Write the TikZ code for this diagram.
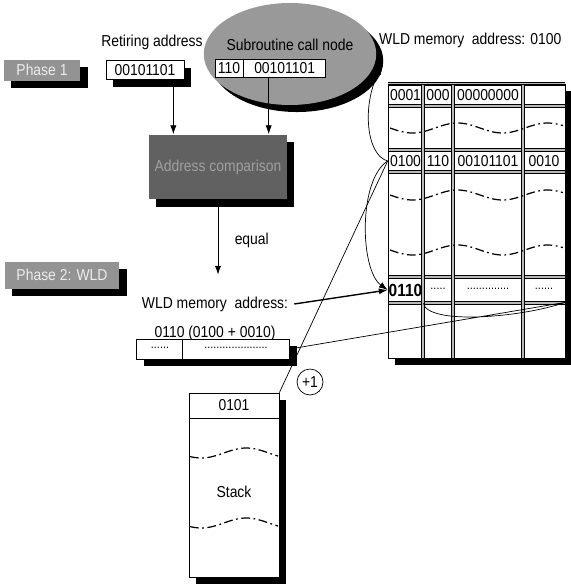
\documentclass[tikz,border=0pt]{standalone}
\usepackage{fontspec}
\setmainfont[FakeStretch=0.88]{Liberation Sans}
\usepackage{tikz}
\usetikzlibrary{positioning,arrows.meta,calc,shapes.geometric,shadows}

\begin{document}
\begin{tikzpicture}[x=0.02cm, y=-0.02cm, font=\fontsize{9}{10}\selectfont,
  shadowed/.style={drop shadow={shadow xshift=4pt, shadow yshift=-4pt, fill=black, opacity=1}},
  box/.style={draw, fill=white, inner sep=0pt, minimum height=0.38cm},
  label box/.style={fill=gray!85, text=gray!15, inner sep=0pt, shadowed},
  cell/.style={inner sep=0pt, minimum height=0.44cm},
  gridline/.style={double=gray!55, double distance=1.4pt, line width=0.45pt},
  breakline/.style={line width=0.7pt, dash pattern=on 5pt off 2pt on 1pt off 2pt},
  arr/.style={-{Latex[length=5pt,width=3.5pt]}}]
\useasboundingbox (0,0) rectangle (571,585);
% phase 1
\node[label box, minimum width=1.54cm, minimum height=0.42cm] (phase1) at (42,70) {Phase 1};
\node (retlabel) at (152,42) {Retiring address};
\node[box, shadowed, minimum width=1.56cm] (retaddr) at (145,70) {00101101};
\node[ellipse, fill=gray!80, shadowed, minimum width=3.45cm, minimum height=2.04cm] (callnode) at (290,54) {};
\node (calltitle) at (290,45) {Subroutine call node};
\node[box, minimum width=0.56cm, minimum height=0.36cm] (opcode) at (229,68) {110};
\node[box, minimum width=1.64cm, minimum height=0.36cm, right=0pt of opcode] (calladdr) {00101101};
\node[anchor=west] (wldold) at (373,40) {WLD memory\ \ address: 0100};
\draw (callnode.10) -- (callnode.10 -| wldold.west);
% comparison
\node[fill=black!62, text=gray!75, shadowed, minimum width=2.74cm, minimum height=1.3cm] (compare) at (218,167) {Address comparison};
\path (retaddr.south east) ++(-11,0) coordinate (rin);
\path (calladdr.south) ++(-16,0) coordinate (cin);
\draw[arr] (rin) -- (rin |- compare.north);
\draw[arr] (cin) -- (cin |- compare.north);
% phase 2
\node[label box, minimum width=2.3cm, minimum height=0.54cm] (phase2) at (62,275) {Phase 2: WLD};
\node (wldnew) at (215,304) {WLD memory\ \ address:};
\node[below=1pt of wldnew] (wldsum) {0110 (0100 + 0010)};
\draw[arr, shorten >=9pt] (compare.south) -- node[pos=0.45, right=6pt] {equal} (compare.south |- wldnew.north);
\node[box, shadowed, minimum width=3.06cm, minimum height=0.4cm] (newentry) at (213,349) {};
\draw ([xshift=0.92cm]newentry.north west) -- ([xshift=0.92cm]newentry.south west);
\node[font=\scriptsize] (newlo) at (160,348) {......};
\node[font=\scriptsize] (newhi) at (236,348) {.....................};
% wld memory table
\draw[shadowed, fill=white] (388,84) rectangle (565,358);
\foreach \y in {84,106,150,172,277,303}
  \draw[gridline] (388,\y) -- (565,\y);
\foreach \x in {423,453,523}
  \draw[gridline] (\x,84) -- (\x,358);
\draw (388,84) rectangle (565,358);
\foreach \y in {128,195,250}
  \draw[breakline] plot[domain=390:563, samples=60] (\x,{\y+5*sin(4*(\x-390))});
\foreach \x/\w/\t/\n in {405.5/0.7/0001/r0001, 438/0.6/000/op0001, 488/1.4/00000000/ad0001}
  \node[cell, minimum width=\w cm] (\n) at (\x,95) {\t};
\foreach \x/\w/\t/\n in {405.5/0.7/0100/r0100, 438/0.6/110/op0100, 488/1.4/00101101/ad0100, 544/0.84/0010/of0100}
  \node[cell, minimum width=\w cm] (\n) at (\x,161) {\t};
\node[cell, minimum width=0.7cm, minimum height=0.52cm, font=\bfseries] (r0110) at (405.5,290) {0110};
\node[cell, minimum width=0.6cm, minimum height=0.52cm, font=\scriptsize] (op0110) at (438,289) {.....};
\node[cell, minimum width=1.4cm, minimum height=0.52cm, font=\scriptsize] (ad0110) at (488,289) {..............};
\node[cell, minimum width=0.84cm, minimum height=0.52cm, font=\scriptsize] (of0110) at (544,289) {......};
% stack
\node[box, shadowed, minimum width=1.8cm, minimum height=3.68cm] (stack) at (234,485) {};
\node[cell, minimum width=1.8cm, minimum height=0.5cm, anchor=north] (sp) at (stack.north) {0101};
\draw (sp.south west) -- (sp.south east);
\node (stacklabel) at (234,492) {Stack};
\foreach \y in {453,523}
  \draw[breakline] plot[domain=190:278, samples=40] (\x,{\y+5*sin(4*(\x-190)+45)});
\node[circle, draw, inner sep=0pt, minimum size=0.52cm] (incr) at (310,382) {+1};
% connectors
\coordinate (oldtip) at (382,66);
\draw[arr] (r0100.west) .. controls (366,155) and (362,105) .. (oldtip);
\draw[arr] (r0100.west) .. controls (358,180) and (360,270) .. (r0110.west);
\draw (r0100.west) -- (stack.north east);
\draw[arr, thick] (wldnew.east) -- (r0110.west);
\draw (r0110.south east) .. controls (428,325) and (520,318) .. (of0110.south east) -- (newentry.east);
\end{tikzpicture}
\end{document}
